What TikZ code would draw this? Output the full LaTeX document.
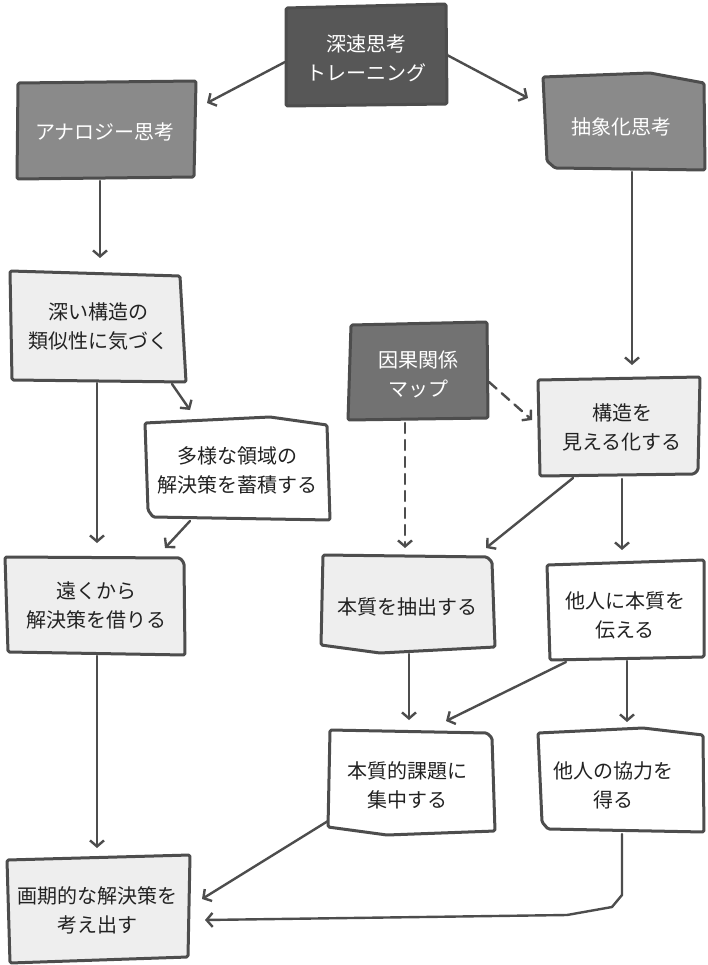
\documentclass[tikz,border=0pt]{standalone}
\usepackage{fontspec}
\newfontfamily\jp{Noto Sans CJK JP}
\usetikzlibrary{arrows.meta,calc}
\definecolor{ink}{HTML}{4D4D4D}
\definecolor{dark}{HTML}{575757}
\definecolor{mid}{HTML}{8A8A8A}
\definecolor{midd}{HTML}{727272}
\definecolor{light}{HTML}{EEEEEE}
\definecolor{txt}{HTML}{222222}
\begin{document}
\begin{tikzpicture}[x=1pt,y=-1pt,
 outline/.style={draw=ink,line width=3pt,line join=round,rounded corners=1.5pt},
 lbl/.style={inner sep=0pt,align=center,font=\jp\fontsize{20}{29}\selectfont,text=txt},
 wlbl/.style={lbl,text=white},
 conn/.style={draw=ink,line width=2.4pt,line cap=round,line join=round,-{Straight Barb[length=6pt,width=14pt]}},
 dconn/.style={conn,dash pattern=on 10pt off 7pt}]
\useasboundingbox (0,0) rectangle (707,965);
\fill[white] (0,0) rectangle (707,965);
% boxes
\draw[outline,fill=dark] (286,8) -- (446,4) -- (447,104) -- (286,106) -- cycle;
\draw[outline,fill=mid] (18,83) -- (196,81) -- (194,177) -- (17,179) -- cycle;
\draw[outline,fill=mid] (543,77) -- (650,73) -- (704,83) -- (705,170) -- (555,168) -- (547,161) -- cycle;
\draw[outline,fill=light] (10,271) -- (180,276) -- (186,382) -- (12,380) -- cycle;
\draw[outline,fill=midd] (351,325) -- (487,322) -- (488,418) -- (348,420) -- cycle;
\draw[outline,fill=light] (538,380) -- (700,377) -- (698,470) -- (694,474) -- (540,476) -- cycle;
\draw[outline,fill=white] (145,423) -- (270,417) -- (327,425) -- (330,520) -- (153,517) -- (148,510) -- cycle;
\draw[outline,fill=light] (5,557) -- (180,558) -- (184,563) -- (185,655) -- (8,652) -- cycle;
\draw[outline,fill=light] (323,555) -- (487,557) -- (492,562) -- (495,647) -- (380,653) -- (321,645) -- cycle;
\draw[outline,fill=white] (547,565) -- (704,560) -- (704,657) -- (550,660) -- cycle;
\draw[outline,fill=white] (330,730) -- (487,733) -- (492,738) -- (495,831) -- (387,835) -- (328,827) -- cycle;
\draw[outline,fill=white] (538,733) -- (643,728) -- (703,735) -- (704,832) -- (548,829) -- (542,822) -- cycle;
\draw[outline,fill=light] (7,860) -- (190,855) -- (188,957) -- (10,963) -- cycle;
% labels
\node[wlbl] (b1) at (366,58) {深速思考\\トレーニング};
\node[wlbl] (b2) at (105,132) {アナロジー思考};
\node[wlbl] (b3) at (621,127) {抽象化思考};
\node[lbl] (b4) at (98,326) {深い構造の\\類似性に気づく};
\node[wlbl] (b5) at (418,374) {因果関係\\マップ};
\node[lbl] (b6) at (622,427) {構造を\\見える化する};
\node[lbl] (b7) at (237,470) {多様な領域の\\解決策を蓄積する};
\node[lbl] (b8) at (96,605) {遠くから\\解決策を借りる};
\node[lbl] (b9) at (407,607) {本質を抽出する};
\node[lbl] (b10) at (625,615) {他人に本質を\\伝える};
\node[lbl] (b11) at (407,785) {本質的課題に\\集中する};
\node[lbl] (b12) at (613,785) {他人の協力を\\得る};
\node[lbl] (b13) at (97,910) {画期的な解決策を\\考え出す};
% connectors
\draw[conn] ($(b1)+(-81,4)$) -- ($(b2)+(102,-29)$);
\draw[conn] ($(b1)+(81,-3)$) -- ($(b3)+(-93,-29)$);
\draw[conn] ($(b2)+(-5,49)$) -- ($(b4)+(2,-68)$);
\draw[conn] ($(b3)+(11,45)$) -- ($(b6)+(10,-62)$);
\draw[conn] ($(b4)+(74,58)$) -- ($(b7)+(-47,-60)$);
\draw[conn] ($(b4)+(-1,57)$) -- ($(b8)+(1,-62)$);
\draw[conn] ($(b7)+(-47,51)$) -- ($(b8)+(69,-57)$);
\draw[dconn] ($(b5)+(71,8)$) -- ($(b6)+(-90,-7)$);
\draw[dconn] ($(b5)+(-13,49)$) -- ($(b9)+(-2,-59)$);
\draw[conn] ($(b6)+(-49,51)$) -- ($(b9)+(79,-59)$);
\draw[conn] ($(b6)+(0,52)$) -- ($(b10)+(-3,-65)$);
\draw[conn] ($(b9)+(2,47)$) -- ($(b11)+(2,-65)$);
\draw[conn] ($(b10)+(2,46)$) -- ($(b12)+(14,-63)$);
\draw[conn] ($(b10)+(-59,47)$) -- ($(b11)+(39,-64)$);
\draw[conn] ($(b8)+(1,51)$) -- ($(b13)+(0,-62)$);
\draw[conn] ($(b11)+(-79,36)$) -- ($(b13)+(105,-11)$);
\draw[conn] ($(b12)+(9,49)$) -- ($(b12)+(9,110)$) -- ($(b12)+(-1,122)$) -- ($(b12)+(-46,130)$) -- ($(b13)+(108,10)$);
\end{tikzpicture}
\end{document}
